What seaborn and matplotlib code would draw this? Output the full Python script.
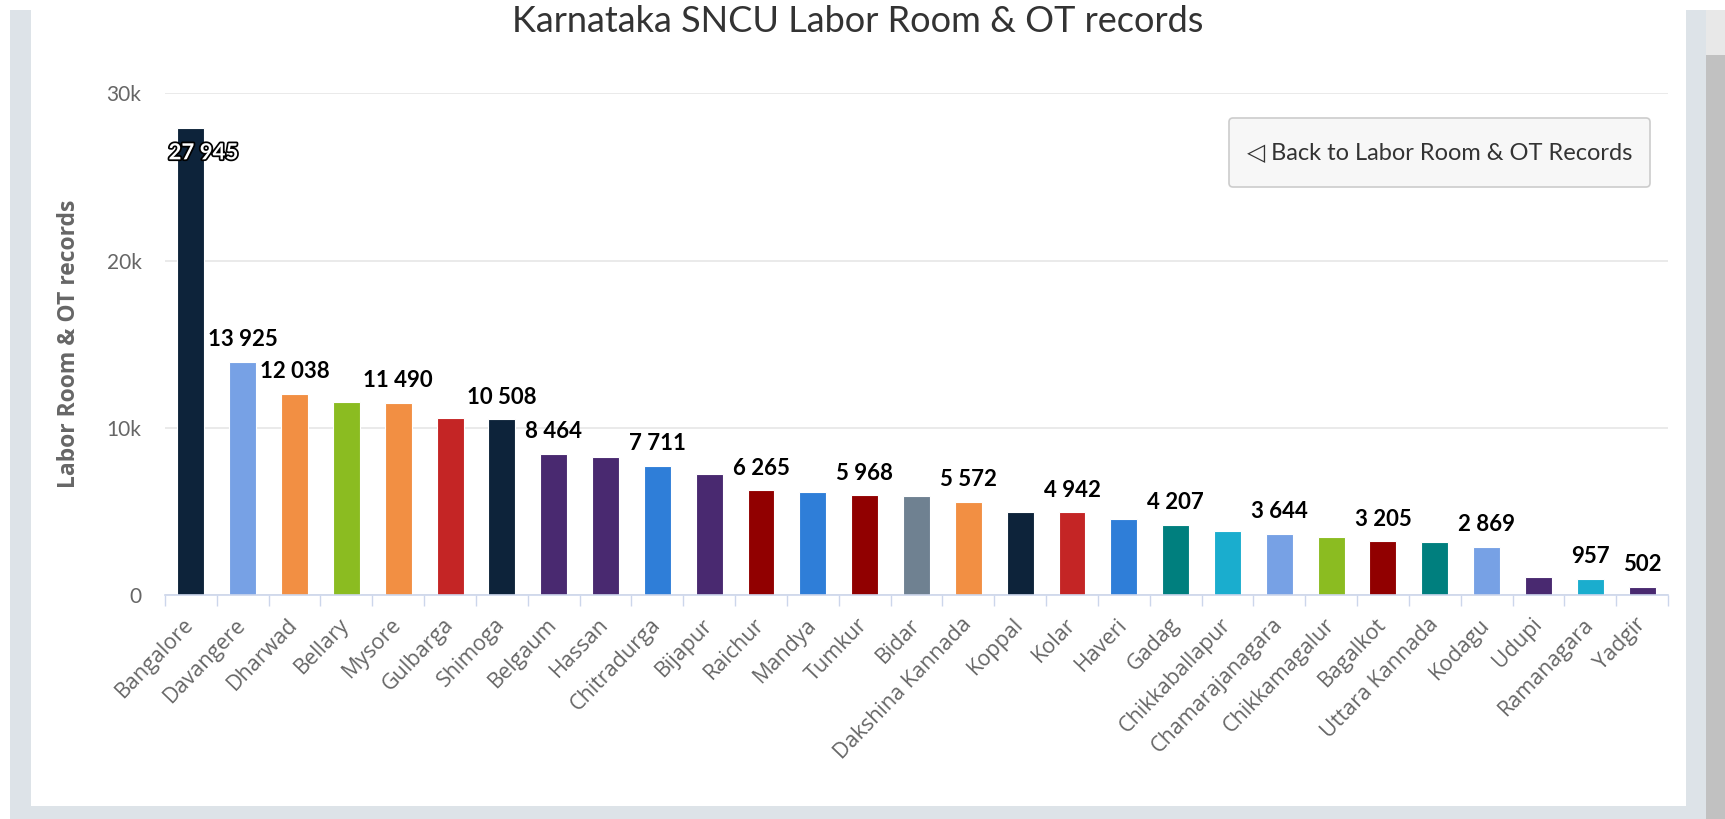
import numpy as np
import pandas as pd
import matplotlib
matplotlib.use("Agg")
import matplotlib.pyplot as plt
import matplotlib.patheffects as pe
from matplotlib.patches import Rectangle, FancyBboxPatch
import seaborn as sns

# data
districts = ["Bangalore", "Davangere", "Dharwad", "Bellary", "Mysore", "Gulbarga",
             "Shimoga", "Belgaum", "Hassan", "Chitradurga", "Bijapur", "Raichur",
             "Mandya", "Tumkur", "Bidar", "Dakshina Kannada", "Koppal", "Kolar",
             "Haveri", "Gadag", "Chikkaballapur", "Chamarajanagara", "Chikkamagalur",
             "Bagalkot", "Uttara Kannada", "Kodagu", "Udupi", "Ramanagara", "Yadgir"]
records = [27945, 13925, 12038, 11560, 11490, 10580,
           10508, 8464, 8250, 7711, 7250, 6265,
           6150, 5968, 5920, 5572, 4950, 4942,
           4550, 4207, 3830, 3644, 3450,
           3205, 3190, 2869, 1050, 957, 502]
bar_colors = ["#0d233a", "#77a1e5", "#f28f43", "#8bbc21", "#f28f43", "#c42525",
              "#0d233a", "#492970", "#492970", "#2f7ed8", "#492970", "#910000",
              "#2f7ed8", "#910000", "#6f8191", "#f28f43", "#0d233a", "#c42525",
              "#2f7ed8", "#007f7e", "#1aadce", "#77a1e5", "#8bbc21",
              "#910000", "#007f7e", "#77a1e5", "#492970", "#1aadce", "#492970"]
# the value labels that are visible in the chart (others are hidden by overlap)
labelled = ["Bangalore", "Davangere", "Dharwad", "Mysore", "Shimoga", "Belgaum",
            "Chitradurga", "Raichur", "Tumkur", "Dakshina Kannada", "Kolar", "Gadag",
            "Chamarajanagara", "Bagalkot", "Kodagu", "Ramanagara", "Yadgir"]
y_ticks = [0, 10000, 20000, 30000]
y_tick_labels = ["0", "10k", "20k", "30k"]
title = "Karnataka SNCU Labor Room & OT records"
y_title = "Labor Room & OT records"
button_text = "\u25c1 Back to Labor Room & OT Records"

df = pd.DataFrame({"district": districts, "records": records})

sns.set_theme(style="white")
plt.rcParams["font.family"] = ["Lato", "DejaVu Sans"]

W, H = 1725, 819
fig = plt.figure(figsize=(W / 100, H / 100), dpi=100)
fig.patch.set_facecolor("white")

# page frame (grey margins + scrollbar)
frame = "#dde3e8"
fig.add_artist(Rectangle((9.6 / W, 0), 21 / W, 1 - 10 / H, transform=fig.transFigure, color=frame, lw=0))
fig.add_artist(Rectangle((9.6 / W, 0), (1706 - 9.6) / W, 13 / H, transform=fig.transFigure, color=frame, lw=0))
fig.add_artist(Rectangle((1686 / W, 0), 20 / W, 1 - 10 / H, transform=fig.transFigure, color=frame, lw=0))
fig.add_artist(Rectangle((1706 / W, 0), 19 / W, 1 - 55 / H, transform=fig.transFigure, color="#c1c1c1", lw=0))
fig.add_artist(Rectangle((1706 / W, 1 - 55 / H), 19 / W, 45 / H, transform=fig.transFigure, color="#e8e8e8", lw=0))

ax = fig.add_axes([165 / W, 1 - 595 / H, (1668 - 165) / W, (595 - 93.5) / H])
sns.barplot(data=df, x="district", y="records", hue="district", palette=bar_colors,
            legend=False, width=0.52, ax=ax, saturation=1, edgecolor="white", linewidth=0.8)

ax.set_xlim(-0.5, len(districts) - 0.5)
ax.set_ylim(0, 30000)
ax.set_yticks(y_ticks)
ax.set_yticklabels(y_tick_labels)
ax.yaxis.grid(True, color="#e6e6e6", lw=1.2)
ax.set_axisbelow(True)
for s in ["top", "right", "left"]:
    ax.spines[s].set_visible(False)
ax.spines["bottom"].set_color("#ccd6eb")
ax.spines["bottom"].set_linewidth(1.2)

ax.set_xticks(np.arange(-0.5, len(districts)), minor=True)
ax.tick_params(axis="x", which="minor", length=8, width=1, color="#ccd6eb", bottom=True)
ax.tick_params(axis="x", which="major", length=0, pad=19, labelsize=15.5, labelcolor="#666666")
ax.tick_params(axis="y", length=0, pad=17, labelsize=15, labelcolor="#666666")
for lab in ax.get_xticklabels():
    lab.set_rotation(46)
    lab.set_ha("right")
    lab.set_va("center")
    lab.set_rotation_mode("anchor")
    lab.set_family(["Open Sans", "DejaVu Sans"])

ax.set_xlabel("")
ax.set_ylabel(y_title, fontsize=16.5, color="#666666", fontweight="bold",
              family=["Open Sans", "DejaVu Sans"])
ax.yaxis.set_label_coords(-0.056, 0.5)

for i, (name, v) in enumerate(zip(districts, records)):
    if name not in labelled:
        continue
    txt = f"{v:,}".replace(",", " ")
    if v > 25000:
        ax.annotate(txt, xy=(i, v), xytext=(9, -18), textcoords="offset points",
                    ha="center", va="center", fontsize=16, fontweight="bold", color="white",
                    path_effects=[pe.withStroke(linewidth=2.5, foreground="black")])
    else:
        ax.annotate(txt, xy=(i, v), xytext=(0, 16), textcoords="offset points",
                    ha="center", va="center", fontsize=16, fontweight="bold", color="black")

fig.text(858 / W, 1 - 32 / H, title, ha="center", va="baseline", fontsize=26, color="#333333")

fig.add_artist(FancyBboxPatch((12.29, (H - 187) / 100), 4.21, 0.69,
                              boxstyle="round,pad=0,rounding_size=0.04",
                              transform=fig.dpi_scale_trans, facecolor="#f7f7f7",
                              edgecolor="#cccccc", lw=1.2))
fig.text(1439.5 / W, 1 - 152.5 / H, button_text, ha="center", va="center",
         fontsize=17, color="#333333")

fig.savefig("out.png", dpi=100)
